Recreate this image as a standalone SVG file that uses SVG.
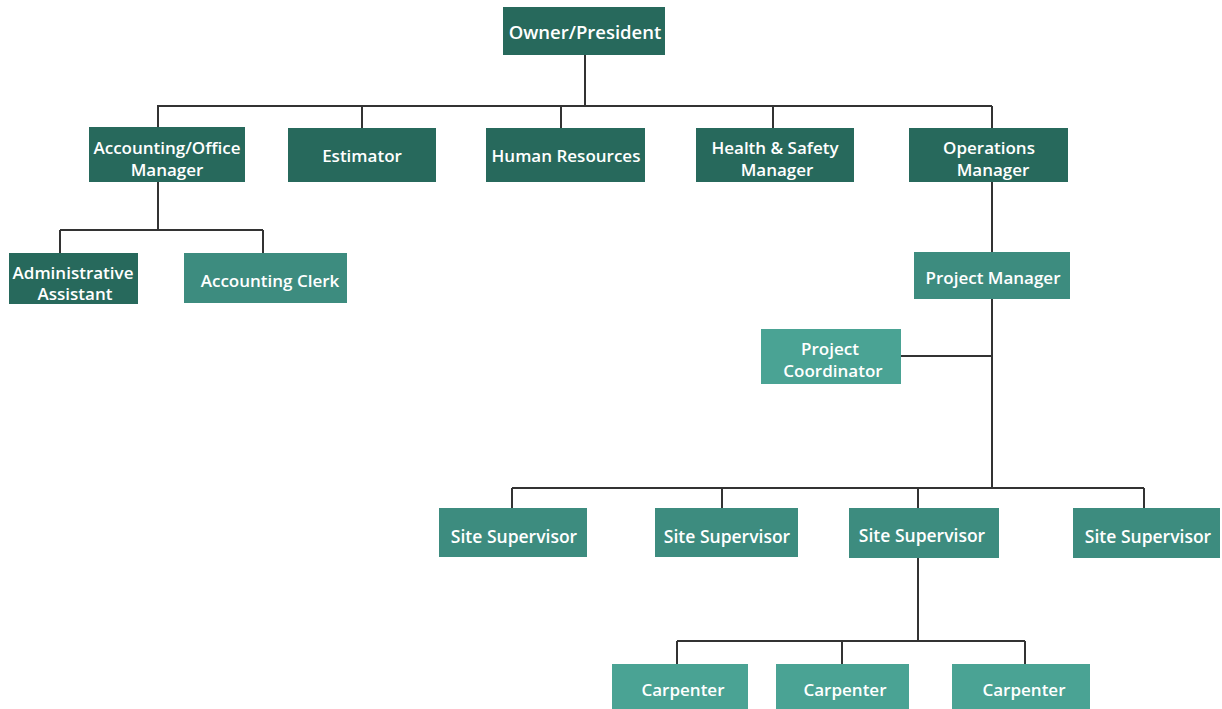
<svg xmlns="http://www.w3.org/2000/svg" width="1222" height="709" viewBox="0 0 1222 709">
<style>
.dark{fill:#27695c}
.mid{fill:#3d8c7f}
.light{fill:#4aa394}
.t{fill:#fff;font-family:"Open Sans","Liberation Sans",sans-serif;font-weight:600;font-size:17px;text-anchor:middle}
.c{fill:none;stroke:#333;stroke-width:2}
</style>
<rect width="1222" height="709" fill="#fff"/>
<g id="connectors" class="c">
<path d="M585 55V106M157 106H992M158 106V127M362 106V128M561 106V128M773 106V128M992 106V128"/>
<path d="M158 182V230M60 230H263M60 230V253M263 230V253"/>
<path d="M992 182V252M992 299V488M901 356H992"/>
<path d="M512 488H1144M512 488V508M722 488V508M918 488V508M1144 488V508"/>
<path d="M918 557V641M677 641H1025M677 641V664M842 641V664M1025 641V664"/>
</g>
<g id="owner"><rect class="dark" x="503" y="7" width="162" height="48"/><text class="t" x="585" y="39" style="font-size:18.5px">Owner/President</text></g>
<g id="accounting-manager"><rect class="dark" x="89" y="127" width="156" height="55"/><text class="t" x="167" y="154">Accounting/Office</text><text class="t" x="167" y="176">Manager</text></g>
<g id="estimator"><rect class="dark" x="288" y="128" width="148" height="54"/><text class="t" x="362" y="162">Estimator</text></g>
<g id="hr"><rect class="dark" x="486" y="128" width="159" height="54"/><text class="t" x="566" y="162">Human Resources</text></g>
<g id="health-safety"><rect class="dark" x="696" y="128" width="158" height="54"/><text class="t" x="775" y="154">Health &amp; Safety</text><text class="t" x="777" y="176">Manager</text></g>
<g id="operations"><rect class="dark" x="909" y="128" width="159" height="54"/><text class="t" x="989" y="154">Operations</text><text class="t" x="993" y="176">Manager</text></g>
<g id="admin-assistant"><rect class="dark" x="9" y="253" width="129" height="51"/><text class="t" x="73" y="279">Administrative</text><text class="t" x="75" y="300">Assistant</text></g>
<g id="accounting-clerk"><rect class="mid" x="184" y="253" width="163" height="50"/><text class="t" x="270" y="287">Accounting Clerk</text></g>
<g id="project-manager"><rect class="mid" x="914" y="252" width="156" height="47"/><text class="t" x="993" y="284">Project Manager</text></g>
<g id="project-coordinator"><rect class="light" x="761" y="329" width="140" height="55"/><text class="t" x="830" y="355">Project</text><text class="t" x="833" y="377">Coordinator</text></g>
<g id="site-supervisor-1"><rect class="mid" x="439" y="508" width="148" height="49"/><text class="t" x="514" y="543" style="font-size:17.5px">Site Supervisor</text></g>
<g id="site-supervisor-2"><rect class="mid" x="655" y="508" width="143" height="49"/><text class="t" x="727" y="543" style="font-size:17.5px">Site Supervisor</text></g>
<g id="site-supervisor-3"><rect class="mid" x="849" y="508" width="150" height="50"/><text class="t" x="922" y="542" style="font-size:17.5px">Site Supervisor</text></g>
<g id="site-supervisor-4"><rect class="mid" x="1073" y="508" width="147" height="50"/><text class="t" x="1148" y="543" style="font-size:17.5px">Site Supervisor</text></g>
<g id="carpenter-1"><rect class="light" x="612" y="664" width="136" height="50"/><text class="t" x="683" y="696">Carpenter</text></g>
<g id="carpenter-2"><rect class="light" x="776" y="664" width="133" height="50"/><text class="t" x="845" y="696">Carpenter</text></g>
<g id="carpenter-3"><rect class="light" x="952" y="664" width="138" height="50"/><text class="t" x="1024" y="696">Carpenter</text></g>
</svg>
